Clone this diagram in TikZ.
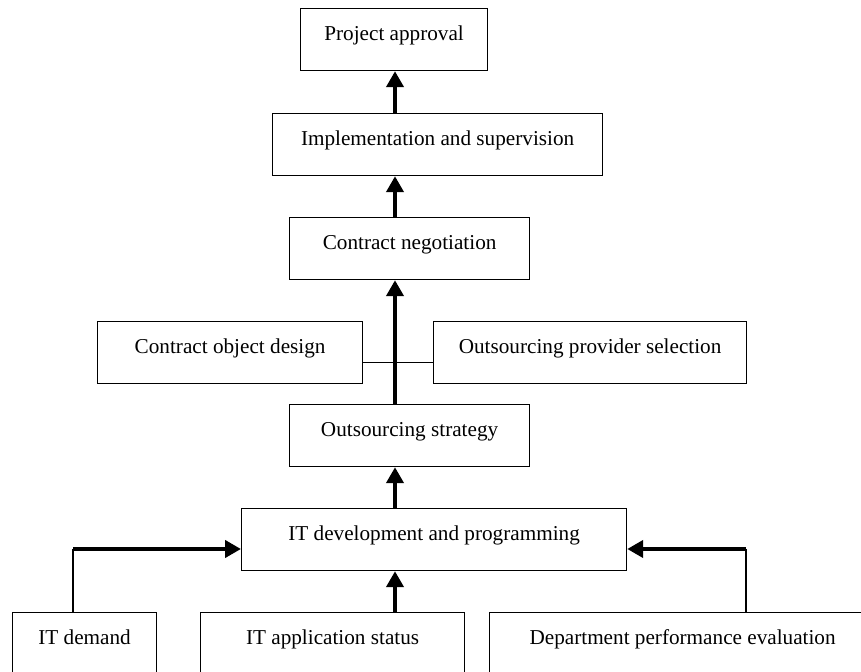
\documentclass[tikz,border=0pt]{standalone}
\usepackage{fontspec}
\setmainfont{Liberation Serif}
\usetikzlibrary{arrows.meta}
\usetikzlibrary{calc}

\tikzset{
  stage/.style={draw, line width=.6pt, anchor=north west, inner ysep=0pt,
    text height=16pt, text depth=15pt, font=\fontsize{10.6}{12}\selectfont},
  flow/.style={line width=2pt, -{Triangle[width=8.5pt,length=8pt]}},
  link/.style={line width=.6pt},
}

\begin{document}
\begin{tikzpicture}[x=.5pt,y=-.5pt]
\useasboundingbox (0,0) rectangle (861,672);
\clip (0,0) rectangle (861,672);
% stages, top to bottom
\node[stage, minimum width=93.5pt] (pa) at (300,8) {Project approval};
\node[stage, minimum width=165pt] (impl) at (272,113) {Implementation and supervision};
\node[stage, minimum width=120pt] (cn) at (289,217) {Contract negotiation};
\node[stage, minimum width=132.5pt] (cod) at (97,321) {Contract object design};
\node[stage, minimum width=156.5pt] (ops) at (433,321) {Outsourcing provider selection};
\node[stage, minimum width=120pt] (os) at (289,404) {Outsourcing strategy};
\node[stage, minimum width=192.5pt] (itd) at (241,508) {IT development and programming};
% inputs (cut by the lower edge)
\node[stage, minimum width=72pt] (dem) at (12,612) {IT demand};
\node[stage, minimum width=132pt] (app) at (200,612) {IT application status};
\node[stage, minimum width=193pt] (dep) at (489,612) {Department performance evaluation};

\coordinate (col) at (395,0);
\draw[link] ([yshift=-5pt]cod.east) -- ([yshift=-5pt]ops.west);
\foreach \a/\b in {impl/pa, cn/impl, os/cn, itd/os, app/itd} {
  \draw[flow] (col |- \a.north) -- (col |- \b.south);
}
\coordinate (lin) at (73,549);
\coordinate (rin) at (746,549);
\draw[link] (lin |- dem.north) -- (lin);
\draw[flow] (lin) -- (lin -| itd.west);
\draw[link] (rin |- dep.north) -- (rin);
\draw[flow] (rin) -- (rin -| itd.east);
\end{tikzpicture}
\end{document}
